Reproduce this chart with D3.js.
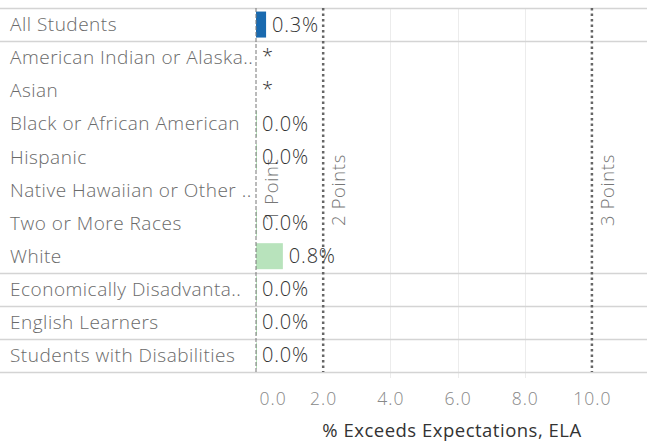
<!DOCTYPE html>
<html>
<head>
<meta charset="utf-8">
<script src="https://cdn.jsdelivr.net/npm/d3@7"></script>
<style>
  html, body { margin: 0; padding: 0; background: #fff; }
  svg { display: block; font-family: "Open Sans", "Noto Sans", sans-serif; font-weight: 300; }
</style>
</head>
<body>
<svg id="chart" width="647" height="441"></svg>
<script>
// ---- data ----
const categories = [
  "All Students",
  "American Indian or Alaska..",
  "Asian",
  "Black or African American",
  "Hispanic",
  "Native Hawaiian or Other ..",
  "Two or More Races",
  "White",
  "Economically Disadvanta..",
  "English Learners",
  "Students with Disabilities"
];
const values = [0.3, null, null, 0, 0, null, 0, 0.8, 0, 0, 0];
const valueLabels = ["0.3%", "*", "*", "0.0%", "0.0%", "", "0.0%", "0.8%", "0.0%", "0.0%", "0.0%"];
const groups = ["all", "race", "race", "race", "race", "race", "race", "race", "econ", "el", "swd"];
const refValues = [0, 2, 10];
const refLabels = ["1 Point", "2 Points", "3 Points"];
const tickValues = [0, 2, 4, 6, 8, 10];
const axisTitle = "% Exceeds Expectations, ELA";

// ---- layout ----
const W = 647, H = 441;
const plotLeft = 256, plotRight = 647, plotTop = 8, plotBottom = 372;
const svg = d3.select("#chart");

const x = d3.scaleLinear().domain([0, 11.64]).range([plotLeft, plotRight]);
const y = d3.scaleBand().domain(categories).range([plotTop, plotBottom]).padding(0);

// gridlines
svg.append("g").selectAll("line")
  .data(tickValues.filter(v => refValues.indexOf(v) < 0))
  .join("line")
  .attr("x1", d => Math.round(x(d)) + 0.5).attr("x2", d => Math.round(x(d)) + 0.5)
  .attr("y1", plotTop).attr("y2", plotBottom + 6)
  .attr("stroke", "#ececec").attr("stroke-width", 1);

// row separators (top, group changes, bottom)
const sepYs = [plotTop];
categories.forEach((c, i) => {
  if (i === categories.length - 1 || groups[i] !== groups[i + 1]) sepYs.push(y(c) + y.bandwidth());
});
svg.append("g").selectAll("line")
  .data(sepYs)
  .join("line")
  .attr("x1", 0).attr("x2", W)
  .attr("y1", d => Math.round(d) + 0.5).attr("y2", d => Math.round(d) + 0.5)
  .attr("stroke", "#d4d4d4").attr("stroke-width", 1.5);

// bars
const barColor = (d, i) => i === 0 ? "#1a6aaf" : "#b8e3bc";
const bh = 26;
svg.append("g").selectAll("rect")
  .data(categories.map((c, i) => ({ c, v: values[i], i })).filter(d => d.v !== null))
  .join("rect")
  .attr("x", x(0))
  .attr("y", d => y(d.c) + (y.bandwidth() - bh) / 2)
  .attr("width", d => Math.max(x(d.v) - x(0), 1))
  .attr("height", bh)
  .attr("fill", d => barColor(d, d.i));

// reference lines
svg.append("g").selectAll("line")
  .data(refValues)
  .join("line")
  .attr("x1", d => x(d)).attr("x2", d => x(d))
  .attr("y1", plotTop).attr("y2", plotBottom)
  .attr("stroke", (d, i) => i === 0 ? "#777" : "#666")
  .attr("stroke-width", (d, i) => i === 0 ? 1 : 2.5)
  .attr("stroke-dasharray", (d, i) => i === 0 ? "4,2" : "2.5,3");

// reference labels
svg.append("g").selectAll("text")
  .data(refValues)
  .join("text")
  .attr("transform", d => `translate(${x(d) + 22},${(plotTop + plotBottom) / 2}) rotate(-90)`)
  .attr("text-anchor", "middle")
  .attr("fill", "#777")
  .attr("font-size", 18.5)
  .attr("letter-spacing", 0.6)
  .text((d, i) => refLabels[i]);

// category labels
svg.append("g").selectAll("text")
  .data(categories)
  .join("text")
  .attr("x", 10)
  .attr("y", d => y(d) + y.bandwidth() / 2)
  .attr("dy", "0.35em")
  .attr("fill", "#6a6a6a")
  .attr("font-size", 19)
  .attr("letter-spacing", 0.5)
  .text(d => d);

// value labels
svg.append("g").selectAll("text")
  .data(categories.map((c, i) => ({ c, v: values[i] === null ? 0 : values[i], t: valueLabels[i] })))
  .join("text")
  .attr("x", d => x(d.v) + 6)
  .attr("y", d => y(d.c) + y.bandwidth() / 2)
  .attr("dy", d => d.t === "*" ? "0.25em" : "0.35em")
  .attr("fill", "#333")
  .attr("font-size", 20)
  .attr("letter-spacing", 0.8)
  .text(d => d.t);

// x axis
const axis = d3.axisBottom(x).tickValues(tickValues).tickFormat(d3.format(".1f")).tickSize(0).tickPadding(0);
const ag = svg.append("g").attr("transform", `translate(0,${plotBottom})`).call(axis);
ag.select(".domain").remove();
ag.selectAll("text")
  .attr("y", 33)
  .attr("dy", 0)
  .attr("fill", "#888")
  .attr("font-size", 17.5)
  .attr("letter-spacing", 1)
  .attr("font-family", "Open Sans, Noto Sans, sans-serif")
  .attr("font-weight", 300)
  .attr("text-anchor", d => d === 0 ? "start" : "middle")
  .attr("dx", d => d === 0 ? 3 : 0);

// axis title
svg.append("text")
  .attr("x", 452)
  .attr("y", 437)
  .attr("text-anchor", "middle")
  .attr("fill", "#333")
  .attr("font-size", 18.5)
  .attr("letter-spacing", 0.5)
  .attr("font-weight", 500)
  .text(axisTitle);
</script>
</body>
</html>
